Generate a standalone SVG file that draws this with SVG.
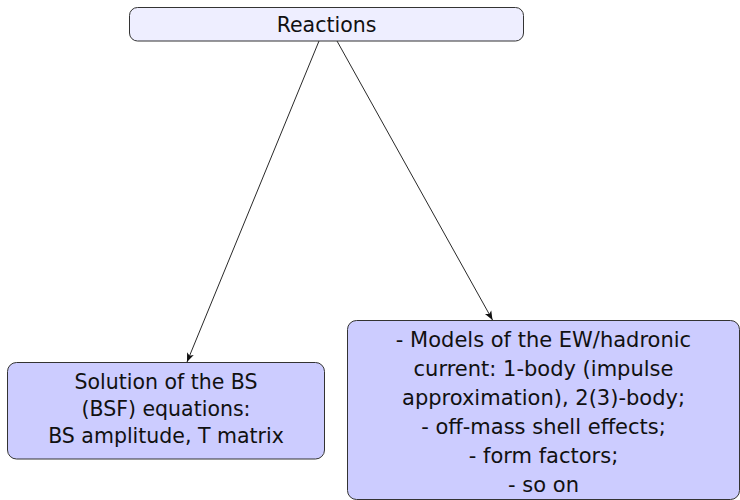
<svg xmlns="http://www.w3.org/2000/svg" width="740" height="500" viewBox="0 0 740 500">
<defs>
<style>
.box{stroke:#333;stroke-width:1}
.top{fill:#eeeeff}
.leaf{fill:#ccccff}
text{font-family:"DejaVu Sans","Liberation Sans",sans-serif;font-size:20.5px;fill:#111;text-anchor:middle}
.big text{font-size:21px}
.edge{stroke:#111;stroke-width:0.9;fill:none;marker-end:url(#arr)}
</style>
<marker id="arr" viewBox="0 0 10 10" refX="10" refY="5" markerWidth="9" markerHeight="9" markerUnits="userSpaceOnUse" orient="auto">
<path d="M0,1 L10,5 L0,9 L2.5,5 Z" fill="#111"/>
</marker>
</defs>
<g id="connectors">
<line class="edge" x1="319" y1="41" x2="187" y2="362"/>
<line class="edge" x1="337" y1="41" x2="492.5" y2="320"/>
</g>
<g id="reactions">
<rect class="box top" x="129.5" y="7.5" width="394" height="33.5" rx="8"/>
<text x="326.5" y="32">Reactions</text>
</g>
<g id="bs-solution">
<rect class="box leaf" x="7.5" y="362.5" width="317" height="96.5" rx="9"/>
<text x="166" y="389">Solution of the BS</text>
<text x="166" y="416">(BSF) equations:</text>
<text x="166" y="443">BS amplitude, T matrix</text>
</g>
<g id="models" class="big">
<rect class="box leaf" x="347.5" y="320.5" width="392" height="179" rx="9"/>
<text x="543.5" y="347">- Models of the EW/hadronic</text>
<text x="543.5" y="376">current:  1-body (impulse</text>
<text x="543.5" y="405">approximation), 2(3)-body;</text>
<text x="543.5" y="434">- off-mass shell effects;</text>
<text x="543.5" y="463">- form factors;</text>
<text x="543.5" y="492">- so on</text>
</g>
</svg>
